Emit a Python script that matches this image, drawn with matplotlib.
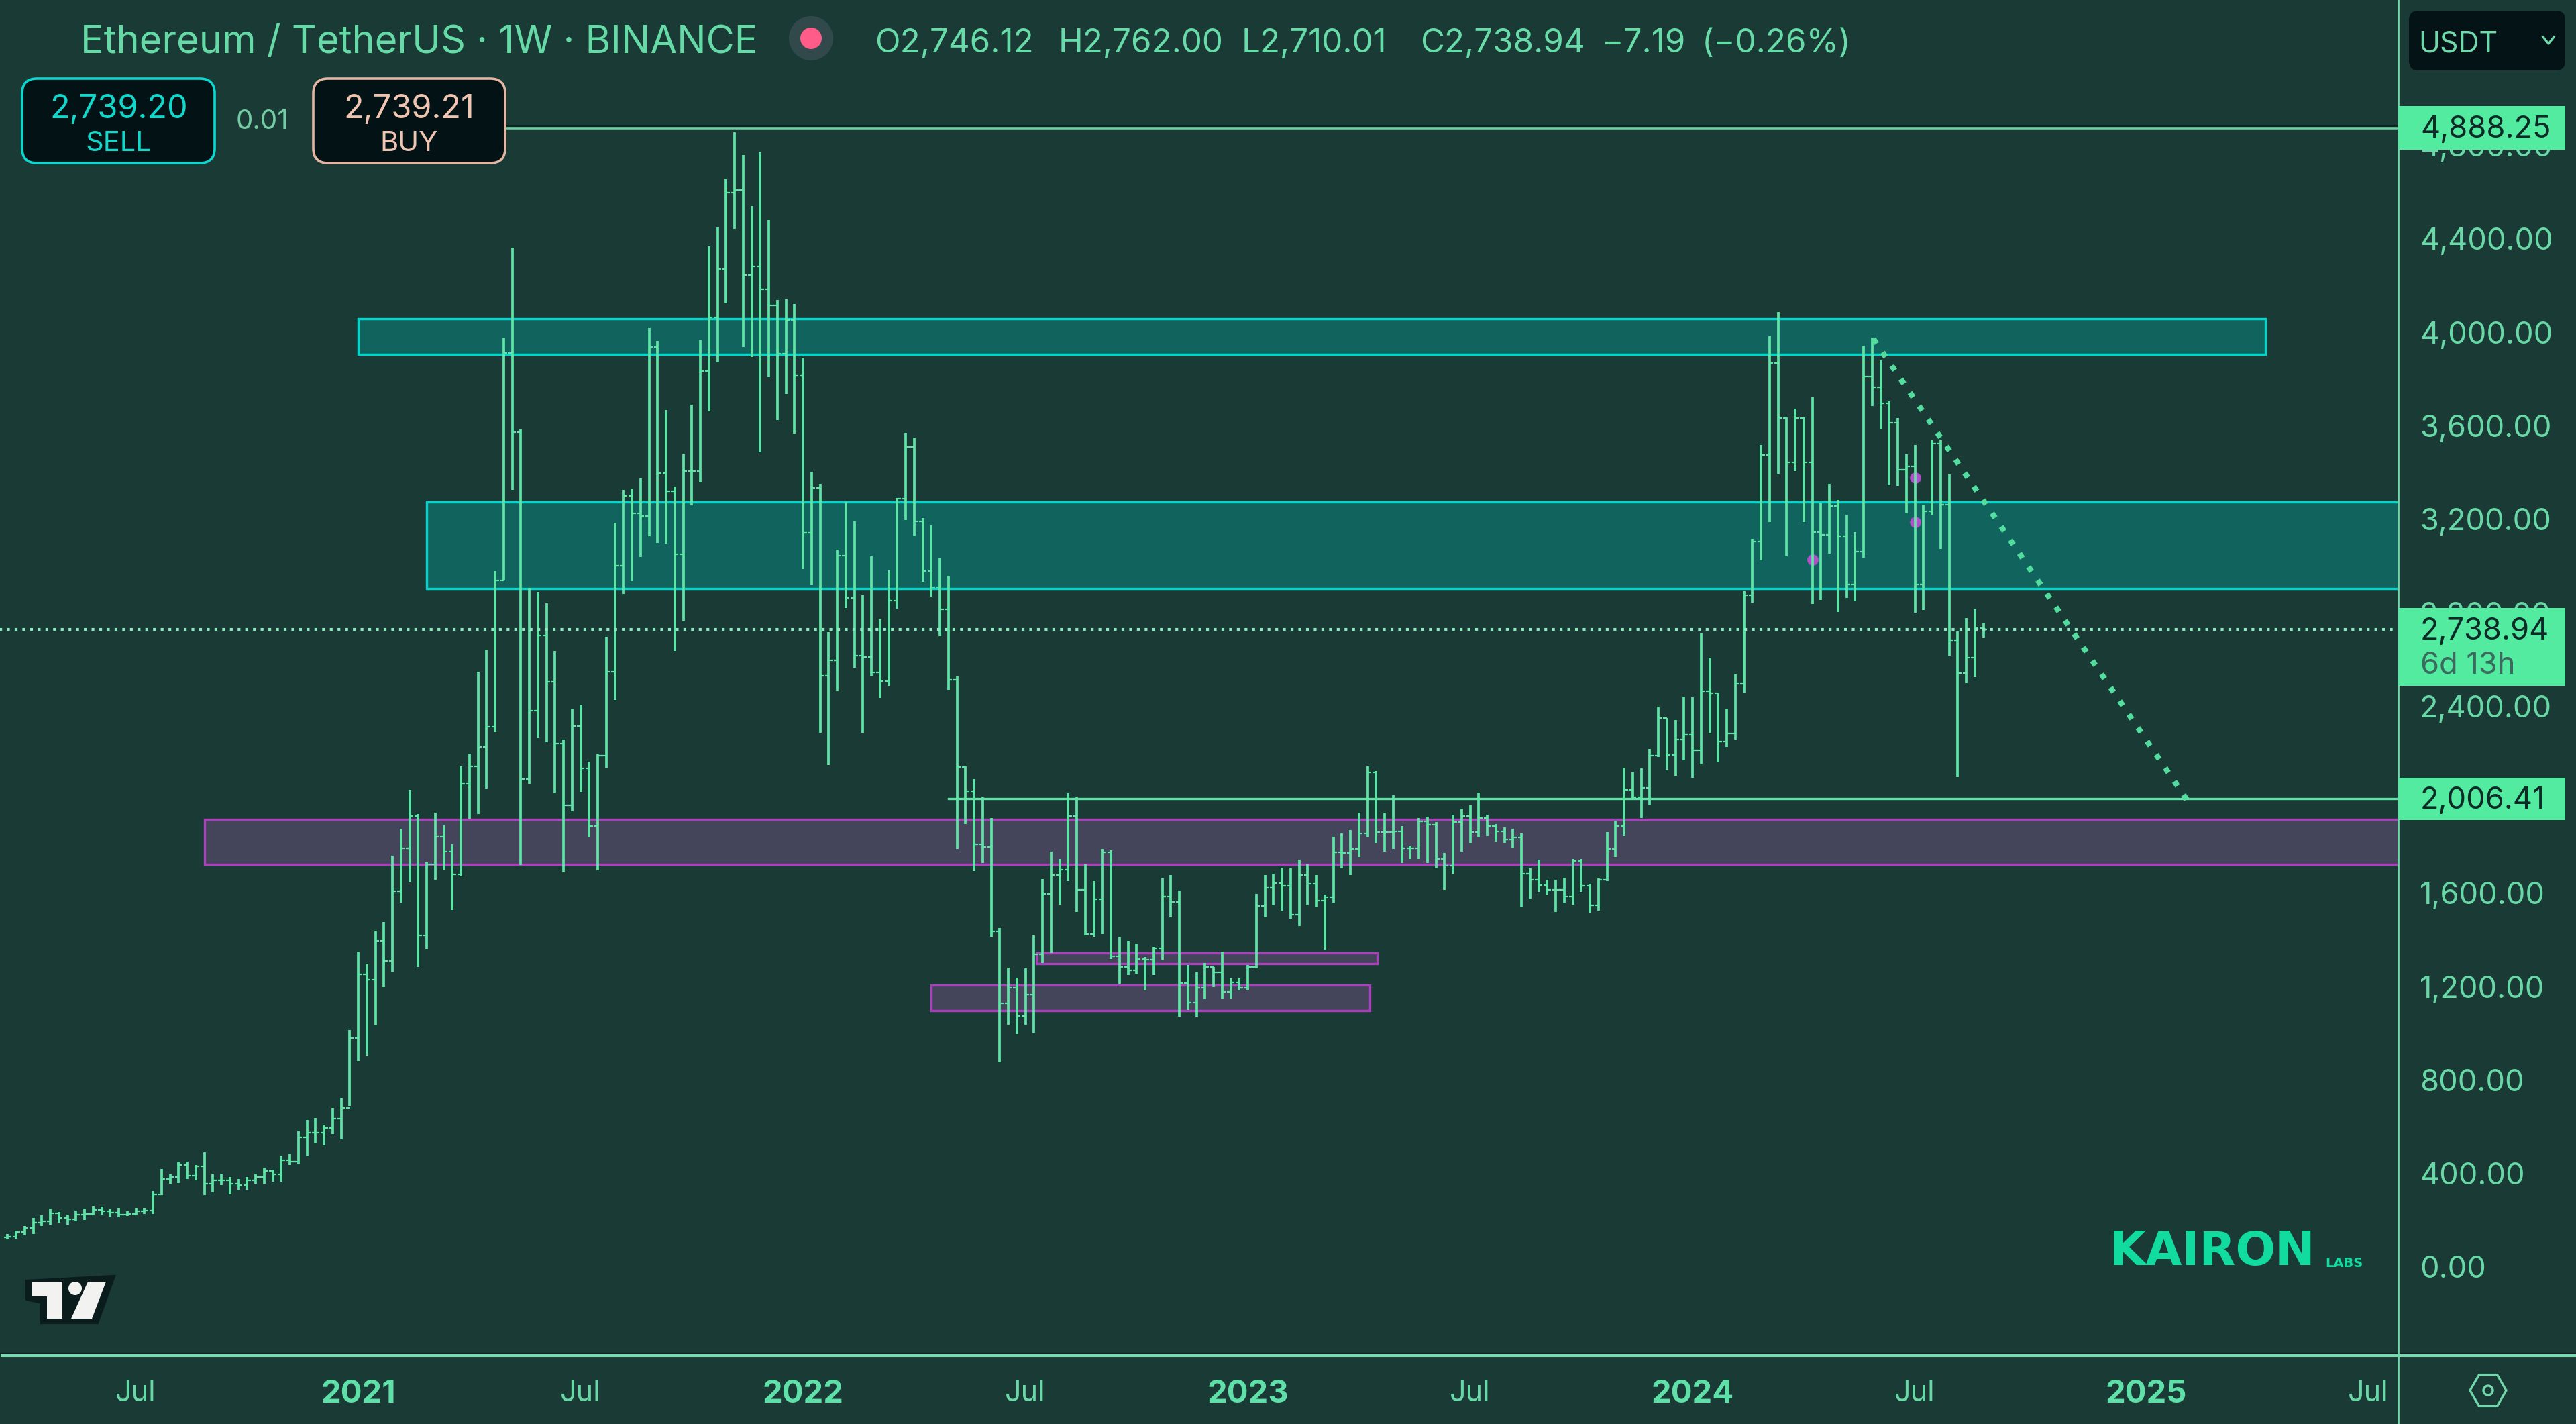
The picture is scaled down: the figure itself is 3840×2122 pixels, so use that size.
#!/usr/bin/env python3
"""ETH/USDT weekly OHLC bars, TradingView mobile style."""
import matplotlib
matplotlib.use("Agg")
import matplotlib.pyplot as plt
import matplotlib.dates as mdates
from matplotlib.patches import Circle, FancyBboxPatch, Polygon, Rectangle, RegularPolygon
import numpy as np
import pandas as pd

plt.rcParams.update({"font.family": ["Inter", "DejaVu Sans"]})

BG = "#1A3A36"; BAR = "#5FE3A6"; TXT = "#68D8A6"; AXC = "#72D8AC"
CYAN = "#00D6CC"; CYANF = "#11645D"; PURP = "#AB40BC"; PURPF = "#44445A"
TAG = "#52EBA0"; DARK = "#031214"

# weekly bars, first one is the week of 23 Mar 2020
highs = [
    140, 155, 175, 210, 220, 250, 235, 225, 240, 250,
    262, 258, 248, 254, 238, 254, 254, 324, 420, 397,
    450, 450, 436, 492, 397, 397, 384, 377, 384, 400,
    426, 417, 473, 483, 582, 628, 637, 608, 681, 725,
    1015, 1351, 1298, 1438, 1476, 1761, 1876, 2043, 1940, 1733,
    1944, 1889, 1809, 2143, 2197, 2547, 2643, 2979, 3974, 4364,
    3584, 2906, 2889, 2841, 2636, 2258, 2390, 2406, 2162, 2194,
    2697, 3184, 3325, 3331, 3375, 4017, 3963, 3667, 3340, 3478,
    3690, 3966, 4368, 4448, 4656, 4857, 4759, 4541, 4769, 4480,
    4138, 4141, 4121, 3891, 3403, 3351, 2717, 3070, 3274, 3191,
    2875, 3041, 2771, 2981, 3291, 3570, 3550, 3205, 3174, 3033,
    2958, 2527, 2142, 2088, 2010, 1920, 1450, 1282, 1239, 1277,
    1420, 1661, 1779, 1746, 2027, 2010, 1722, 1651, 1788, 1783,
    1409, 1397, 1384, 1326, 1371, 1664, 1677, 1611, 1293, 1260,
    1301, 1285, 1351, 1235, 1235, 1293, 1598, 1677, 1684, 1710,
    1705, 1743, 1722, 1677, 1595, 1842, 1854, 1870, 1944, 2142,
    2122, 1944, 2019, 1887, 1804, 1920, 1928, 1903, 1771, 1936,
    1961, 1977, 2030, 1936, 1895, 1882, 1875, 1854, 1705, 1743,
    1656, 1656, 1667, 1746, 1746, 1639, 1664, 1862, 1911, 2137,
    2118, 2134, 2216, 2398, 2348, 2340, 2442, 2439, 2711, 2609,
    2456, 2390, 2538, 2892, 3116, 3518, 3983, 4087, 3636, 3673,
    3636, 3722, 3268, 3351, 3283, 3219, 3145, 3943, 3978, 3880,
    3705, 3633, 3478, 3518, 3262, 3538, 3541, 3392, 2720, 2777, 2815, 2757,
]
lows = [
    118, 122, 135, 140, 175, 180, 190, 180, 195, 200,
    222, 225, 214, 212, 218, 222, 228, 228, 307, 357,
    360, 377, 370, 307, 320, 350, 311, 331, 331, 357,
    357, 364, 364, 436, 439, 476, 529, 522, 569, 545,
    688, 883, 906, 1034, 1197, 1263, 1559, 1649, 1283, 1361,
    1656, 1700, 1527, 1671, 1918, 1938, 2047, 2290, 2938, 3325,
    1720, 2068, 2265, 2245, 2027, 1692, 1950, 2034, 1838, 1697,
    2136, 2427, 2880, 2935, 3040, 3127, 3098, 3096, 2637, 2766,
    3260, 3357, 3662, 3871, 4124, 4443, 3937, 3894, 3486, 3808,
    3624, 3736, 3567, 2987, 2918, 2286, 2148, 2467, 2820, 2565,
    2286, 2527, 2435, 2487, 2817, 3196, 3127, 2932, 2869, 2700,
    2470, 1789, 1895, 1694, 1730, 1413, 876, 1037, 996, 1037,
    1001, 1301, 1343, 1552, 1651, 1519, 1420, 1413, 1425, 1318,
    1211, 1248, 1255, 1183, 1248, 1315, 1496, 1070, 1100, 1070,
    1145, 1199, 1150, 1150, 1183, 1186, 1277, 1496, 1549, 1524,
    1491, 1458, 1549, 1540, 1359, 1557, 1705, 1677, 1755, 1837,
    1816, 1779, 1788, 1730, 1746, 1746, 1730, 1705, 1615, 1684,
    1779, 1816, 1837, 1845, 1821, 1816, 1793, 1540, 1578, 1606,
    1590, 1519, 1557, 1552, 1606, 1516, 1524, 1651, 1755, 1845,
    2002, 1920, 1977, 2183, 2129, 2101, 2167, 2093, 2151, 2282,
    2159, 2225, 2258, 2458, 2843, 3024, 3188, 3395, 3041, 3406,
    3188, 2838, 2855, 3053, 2804, 2863, 2849, 3036, 3685, 3584,
    3346, 3343, 3225, 2800, 2812, 3219, 3073, 2616, 2097, 2499, 2525, 2694,
]
closes = [
    130, 148, 168, 190, 195, 230, 210, 205, 225, 228,
    245, 238, 232, 225, 228, 238, 240, 311, 377, 386,
    436, 390, 430, 357, 370, 370, 357, 350, 370, 384,
    410, 397, 456, 450, 555, 575, 575, 595, 635, 681,
    978, 1253, 1230, 1395, 1309, 1607, 1793, 1931, 1418, 1722,
    1842, 1777, 1681, 2068, 2143, 2226, 2313, 2938, 3911, 3572,
    2089, 2380, 2703, 2504, 2239, 1976, 2316, 2133, 1886, 2188,
    2547, 3002, 3299, 3226, 3213, 3937, 3397, 3320, 3050, 3406,
    3406, 3834, 4064, 4271, 4598, 4610, 4245, 4283, 4185, 4116,
    3908, 4052, 3814, 3142, 3334, 2530, 2596, 3044, 2863, 2616,
    2611, 2545, 2507, 2852, 3288, 3509, 3191, 2978, 2909, 2815,
    2513, 2140, 2035, 1809, 1799, 1437, 1128, 1194, 1074, 1166,
    1338, 1598, 1677, 1700, 1931, 1615, 1425, 1573, 1776, 1331,
    1285, 1268, 1318, 1315, 1364, 1585, 1562, 1215, 1133, 1194,
    1285, 1260, 1178, 1219, 1194, 1285, 1545, 1623, 1644, 1631,
    1507, 1677, 1639, 1568, 1582, 1776, 1771, 1788, 1854, 2118,
    1862, 1862, 1865, 1791, 1793, 1908, 1892, 1747, 1717, 1903,
    1931, 1862, 1920, 1887, 1865, 1829, 1837, 1684, 1656, 1634,
    1615, 1615, 1585, 1738, 1631, 1549, 1656, 1788, 1887, 2043,
    2010, 2052, 2188, 2348, 2192, 2258, 2278, 2212, 2464, 2456,
    2249, 2282, 2497, 2875, 3105, 3475, 3868, 3633, 3443, 3633,
    3443, 3145, 3133, 3257, 3128, 2921, 3062, 3811, 3765, 3696,
    3613, 3412, 3426, 2921, 3234, 3524, 3262, 2682, 2542, 2608, 2734, 2728,
]
first_open = 126

# zones: start, end, top, bottom
cyan_zones = [("2021-01-04", "2025-04-14", 4058, 3906),
              ("2021-03-01", "2025-12-31", 3274, 2904)]
purple_zones = [("2020-08-31", "2025-12-31", 1916, 1723),
                ("2022-07-13", "2023-04-18", 1344, 1297),
                ("2022-04-18", "2023-04-12", 1206, 1096)]
ath_level = 4873
ath_start = "2021-03-30"
low_level = 2006
low_start = "2022-05-02"
last_level = 2728
trend_dates = ["2024-05-28", "2025-02-09"]
trend_prices = [3972, 1996]
marker_dates = ["2024-04-08", "2024-07-01", "2024-07-01"]
marker_prices = [3027, 3377, 3188]

price_ticks = [0, 400, 800, 1200, 1600, 2000, 2400, 2800, 3200, 3600, 4000, 4400, 4800]
time_ticks = ["2020-07-06", "2021-01-04", "2021-07-05", "2022-01-03", "2022-07-04", "2023-01-02",
              "2023-07-03", "2024-01-01", "2024-07-01", "2025-01-06", "2025-07-07"]
time_labels = ["Jul", "2021", "Jul", "2022", "Jul", "2023", "Jul", "2024", "Jul", "2025", "Jul"]

W, H = 3840, 2122
AX_R, AX_B = 3575, 2019
fig = plt.figure(figsize=(W / 100, H / 100), dpi=100, facecolor=BG)
ax = fig.add_axes([0, (H - AX_B) / H, AX_R / W, AX_B / H], facecolor=BG)

dates = mdates.date2num(pd.date_range("2020-03-23", periods=len(closes), freq="7D"))
opens = [first_open] + closes[:-1]

def px2num(px):
    return dates[0] + (px - 11.4) / 12.75 * 7

ax.set_xlim(px2num(0), px2num(AX_R))
ax.set_ylim((1888 - AX_B) * 2.872, 1888 * 2.872)

def num(d):
    return mdates.date2num(pd.Timestamp(d))

for s, e, top, bot in cyan_zones:
    ax.add_patch(Rectangle((num(s), bot), num(e) - num(s), top - bot, fc=CYANF, ec=CYAN, lw=2.4, zorder=1))
for s, e, top, bot in purple_zones:
    ax.add_patch(Rectangle((num(s), bot), num(e) - num(s), top - bot, fc=PURPF, ec=PURP, lw=2.4, zorder=1))

ax.plot(mdates.date2num(pd.to_datetime(marker_dates)), marker_prices, "o", ms=12, color="#B24FCB", mew=0, zorder=2)

ax.vlines(dates, lows, highs, color=BAR, lw=2.7, zorder=3)
ax.hlines(opens, dates - 3, dates, color=BAR, lw=1.6, zorder=3)
ax.hlines(closes, dates, dates + 3, color=BAR, lw=1.6, zorder=3)

# drawn levels
ax.plot([num(ath_start), px2num(AX_R)], [ath_level + 3, ath_level + 3], color="#0C2522", lw=4.4, zorder=2.6)
ax.plot([num(ath_start), px2num(AX_R)], [ath_level, ath_level], color="#6FCFA2", lw=2.6, zorder=2.7)
ax.plot([num(low_start), px2num(AX_R)], [low_level, low_level], color=BAR, lw=2.4, zorder=4)
ax.plot([dates[0] - 20, px2num(AX_R - 6)], [last_level, last_level], color="#8CE8BE", lw=3,
        ls=(0, (1, 1.75)), zorder=4)
ax.plot(mdates.date2num(pd.to_datetime(trend_dates)), trend_prices, color="#52DC9E", lw=6,
        ls=(0, (1, 1.9)), zorder=4)

for sp in ax.spines.values():
    sp.set_visible(False)
ax.yaxis.tick_right()
ax.set_yticks(price_ticks)
ax.set_yticklabels([f"{p:,.2f}" for p in price_ticks])
ax.set_xticks(mdates.date2num(pd.to_datetime(time_ticks)))
ax.set_xticklabels(time_labels)
ax.tick_params(axis="y", length=0, pad=23, labelsize=32.5, labelcolor=TXT)
ax.tick_params(axis="x", length=0, pad=27, labelsize=31, labelcolor=TXT)
for t, lab in zip(ax.get_xticklabels(), time_labels):
    if lab != "Jul":
        t.set_fontweight("bold")
        t.set_fontsize(34)
        t.set_color("#5FE0A8")

# chrome in pixel coordinates
ov = fig.add_axes([0, 0, 1, 1], facecolor="none")
ov.set_xlim(0, W); ov.set_ylim(H, 0); ov.axis("off")

ov.plot([3, W - 2], [AX_B, AX_B], color="#0C2522", lw=4.6)
ov.plot([3, W - 2], [AX_B + 1, AX_B + 1], color="#7AD8AE", lw=3)
ov.plot([AX_R, AX_R], [0, H], color=AXC, lw=2)

ov.text(120, 64, "Ethereum / TetherUS · 1W · BINANCE", color="#66DAA6", fontsize=41.5, va="center", ha="left")
ov.add_patch(Circle((1209, 57), 33, fc="#31494A", ec="none"))
ov.add_patch(Circle((1209, 57), 16, fc="#FF5C8A", ec="none"))
for x, s in [(1304, "O2,746.12"), (1578, "H2,762.00"), (1851, "L2,710.01"), (2117, "C2,738.94"),
             (2388, "−7.19"), (2537, "(−0.26%)")]:
    ov.text(x, 65, s, color="#68DCA8", fontsize=35.5, va="center", ha="left")

def button(x0, x1, y0, y1, ec, lw=2.6, fc=DARK, r=22):
    ov.add_patch(FancyBboxPatch((x0 + r, y0 + r), x1 - x0 - 2 * r, y1 - y0 - 2 * r,
                                boxstyle=f"round,pad={r},rounding_size={r}", fc=fc, ec=ec, lw=lw))

button(33, 320, 117, 243, "#0CD8D0")
ov.text(177, 163, "2,739.20", color="#12D8CC", fontsize=35, ha="center", va="center")
ov.text(177, 214, "SELL", color="#12D8CC", fontsize=30, ha="center", va="center")
ov.text(391, 182, "0.01", color="#74CCA4", fontsize=29, ha="center", va="center")
button(467, 753, 117, 243, "#E3B5A2")
ov.text(610, 163, "2,739.21", color="#EFC4B0", fontsize=35, ha="center", va="center")
ov.text(610, 214, "BUY", color="#EFC4B0", fontsize=30, ha="center", va="center")

button(3591, 3824, 16, 105, "none", lw=0, fc="#041315", r=14)
ov.text(3605, 66, "USDT", color="#70D8AA", fontsize=31, va="center", ha="left")
ov.plot([3791, 3799, 3807], [55, 65, 55], color="#70D8AA", lw=2.4)

def tag(y0, y1):
    ov.add_patch(Rectangle((AX_R + 1, y0), 3824 - AX_R - 1, y1 - y0, fc=TAG, ec="none", zorder=5))

tag(158, 223)
ov.text(3608, 193, "4,888.25", color="#0E2A26", fontsize=32.5, va="center", ha="left", zorder=6)
tag(906, 1022)
ov.text(3608, 941, "2,738.94", color="#0E2A26", fontsize=32.5, va="center", ha="left", zorder=6)
ov.text(3608, 992, "6d 13h", color="#3C6A5E", fontsize=32.5, va="center", ha="left", zorder=6)
tag(1159, 1222)
ov.text(3608, 1193, "2,006.41", color="#0E2A26", fontsize=32.5, va="center", ha="left", zorder=6)

# TradingView mark
ov.add_patch(Polygon([(40, 1909), (170, 1902), (145, 1971), (62, 1971), (62, 1941), (40, 1936)],
                     fc="#0A1C1C", ec="#0A1C1C", lw=3))
ov.add_patch(Polygon([(48, 1910), (93, 1910), (93, 1965), (70, 1965), (70, 1932), (48, 1932)], fc="#F2F2F0", ec="none"))
ov.add_patch(Polygon([(131, 1910), (158, 1910), (137, 1965), (106, 1965)], fc="#F2F2F0", ec="none"))
ov.add_patch(Circle((112, 1920), 10, fc="#F2F2F0", ec="none"))

# watermark
ov.text(3145, 1866, "KAIRON", color="#12DBA0", fontsize=50.5, family="DejaVu Sans", fontweight="bold",
        va="center", ha="left")
ov.text(3466, 1882, "LABS", color="#12DBA0", fontsize=14, family="DejaVu Sans", fontweight="bold",
        va="center", ha="left")

# settings icon
ov.add_patch(RegularPolygon((3709, 2072), 6, radius=27, orientation=np.pi / 6, fc="none", ec="#72D8AC", lw=2.4))
ov.add_patch(Circle((3709, 2072), 7, fc="none", ec="#72D8AC", lw=2.4))

fig.savefig("out.png", dpi=100, facecolor=BG)
